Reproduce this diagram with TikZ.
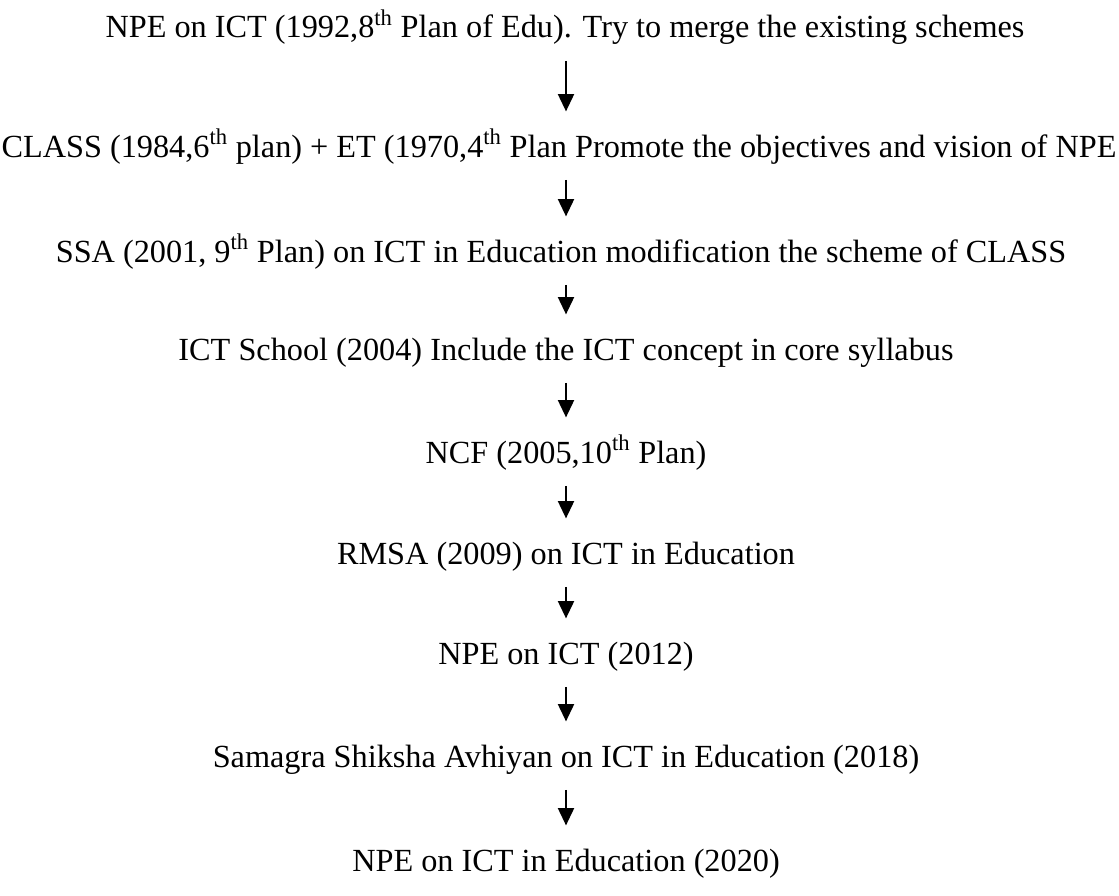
\documentclass[tikz,border=0pt]{standalone}
\usepackage{fontspec}
\setmainfont{Liberation Serif}
\usetikzlibrary{arrows.meta}
\tikzset{
  stage/.style={anchor=base, inner sep=0pt, text height=16pt, text depth=5pt, font=\fontsize{24.2}{29}\selectfont},
  flow/.style={-{Triangle[width=12pt, length=13pt]}, line width=1.5pt, shorten <=12pt, shorten >=18pt}
}
\begin{document}
\begin{tikzpicture}[x=0.75pt, y=-0.75pt]
\useasboundingbox (0,0) rectangle (1119,895);
\coordinate (axis) at (566,0);
\node[stage] (npe92) at (565,38) {NPE on ICT (1992,8\textsuperscript{th} Plan of Edu). Try to merge the existing schemes};
\node[stage] (class) at (559,157) {CLASS (1984,6\textsuperscript{th} plan) + ET (1970,4\textsuperscript{th} Plan Promote the objectives and vision of NPE};
\node[stage] (ssa) at (561,262) {SSA (2001, 9\textsuperscript{th} Plan) on ICT in Education modification the scheme of CLASS};
\node[stage] (school) at (566,360) {ICT School (2004) Include the ICT concept in core syllabus};
\node[stage] (ncf) at (566,463) {NCF (2005,10\textsuperscript{th} Plan)};
\node[stage] (rmsa) at (566,564) {RMSA (2009) on ICT in Education};
\node[stage] (npe12) at (566,664) {NPE on ICT (2012)};
\node[stage] (samagra) at (566,767) {Samagra Shiksha Avhiyan on ICT in Education (2018)};
\node[stage] (npe20) at (566,871) {NPE on ICT in Education (2020)};
% arrows between the stages, all on one vertical line
\foreach \a/\b in {npe92/class, class/ssa, ssa/school, school/ncf, ncf/rmsa, rmsa/npe12, npe12/samagra, samagra/npe20} {
\draw[flow] (\a.south -| axis) -- (\b.north -| axis);}
\end{tikzpicture}
\end{document}
